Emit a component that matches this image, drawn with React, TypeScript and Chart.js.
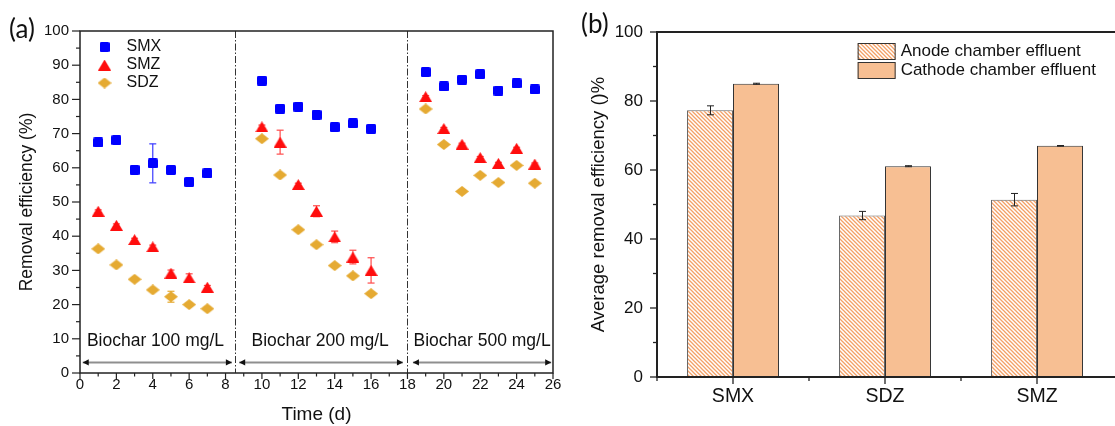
import React, { useEffect, useRef } from 'react';
import { Chart, registerables } from 'chart.js';

Chart.register(...registerables);

const FONT = "'Liberation Sans', Arial, Helvetica, sans-serif";
const LABEL_FONT = "Lato, 'Open Sans', sans-serif";
const TEXT = '#111111';

// ---------- Panel (a) data ----------
const days = [1, 2, 3, 4, 5, 6, 7, 10, 11, 12, 13, 14, 15, 16, 19, 20, 21, 22, 23, 24, 25];
const smx = [67.4, 68.1, 59.4, 61.3, 59.4, 55.9, 58.4, 85.5, 77.3, 77.9, 75.5, 71.9, 73.0, 71.4, 88.0, 83.8, 85.8, 87.4, 82.6, 84.7, 82.9];
const smxErr = [0.6, 0.6, 0.5, 5.7, 0.6, 0.5, 0.9, 0.5, 0.4, 0.4, 0.7, 0.4, 0.3, 0.7, 0.3, 0.3, 0.3, 0.3, 0.3, 0.3, 0.3];
const smz = [47.3, 43.2, 39.0, 36.9, 29.2, 27.8, 25.1, 72.0, 67.5, 55.1, 47.3, 39.8, 33.9, 30.0, 80.8, 71.5, 66.9, 63.0, 61.3, 65.7, 61.1];
const smzErr = [0.4, 0.4, 0.4, 0.5, 0.9, 1.2, 0.5, 0.5, 3.5, 0.4, 1.6, 1.7, 2.0, 3.7, 0.3, 0.3, 0.3, 0.3, 0.3, 0.3, 0.3];
const sdz = [36.3, 31.6, 27.4, 24.3, 22.3, 20.0, 18.8, 68.5, 57.9, 41.9, 37.5, 31.4, 28.4, 23.2, 77.2, 66.8, 53.1, 57.8, 55.7, 60.7, 55.5];
const sdzErr = [0.4, 0.4, 0.4, 0.4, 1.6, 0.4, 0.4, 0.4, 0.4, 0.4, 0.4, 0.4, 0.4, 0.4, 0.3, 0.3, 0.3, 0.3, 0.3, 0.3, 0.3];
const seriesNames = ['SMX', 'SMZ', 'SDZ'];
const seriesColors = ['#0000ff', '#ff0d0d', '#e5aa32'];
const errorColors = ['#3a3aff', '#ff4a4a', '#e5aa32'];
const xMaxA = 26;
const xStepA = 2;
const yMaxA = 100;
const yStepA = 10;
const dividers = [8.5, 18];
const regionLabels = ['Biochar 100 mg/L', 'Biochar 200 mg/L', 'Biochar 500 mg/L'];
const regionCenters = [4.15, 13.2, 22.1];
const regionLabelY = 9.2;
const arrowStarts = [0.15, 8.75, 18.3];
const arrowEnds = [8.35, 17.75, 25.9];
const arrowY = 3.1;

// ---------- Panel (b) data ----------
const compounds = ['SMX', 'SDZ', 'SMZ'];
const anode = [77.3, 46.8, 51.4];
const anodeErr = [1.3, 1.2, 1.8];
const cathode = [85.0, 61.1, 67.0];
const cathodeErr = [0.15, 0.15, 0.1];
const barNames = ['Anode chamber effluent', 'Cathode chamber effluent'];
const yMaxB = 100;
const yStepB = 20;

// ---------- helpers ----------
function mk(w: number, h: number) {
  const c = document.createElement('canvas');
  c.width = w;
  c.height = h;
  return c;
}
function squareMarker(color: string, s: number) {
  const c = mk(s, s);
  const g = c.getContext('2d')!;
  g.fillStyle = color;
  g.beginPath();
  if ((g as any).roundRect) (g as any).roundRect(0, 0, s, s, 1.5);
  else g.rect(0, 0, s, s);
  g.fill();
  return c;
}
function triangleMarker(color: string, w: number, h: number) {
  const c = mk(w, h);
  const g = c.getContext('2d')!;
  g.fillStyle = color;
  g.beginPath();
  g.moveTo(w / 2, 0);
  g.lineTo(w, h);
  g.lineTo(0, h);
  g.closePath();
  g.fill();
  return c;
}
function diamondMarker(color: string, w: number, h: number) {
  const c = mk(w, h);
  const g = c.getContext('2d')!;
  g.fillStyle = color;
  g.beginPath();
  g.moveTo(w / 2, 0);
  g.lineTo(w, h / 2);
  g.lineTo(w / 2, h);
  g.lineTo(0, h / 2);
  g.closePath();
  g.fill();
  return c;
}
function hatchPattern(ctx: CanvasRenderingContext2D, color: string) {
  const s = 4;
  const c = mk(s, s);
  const g = c.getContext('2d')!;
  g.fillStyle = '#ffffff';
  g.fillRect(0, 0, s, s);
  g.strokeStyle = color;
  g.lineWidth = 1.3;
  g.beginPath();
  for (let k = -1; k <= 1; k++) {
    g.moveTo(-1, -1 + k * s);
    g.lineTo(s + 1, s + 1 + k * s);
  }
  g.stroke();
  return ctx.createPattern(c, 'repeat')!;
}
function line(ctx: CanvasRenderingContext2D, x0: number, y0: number, x1: number, y1: number) {
  ctx.beginPath();
  ctx.moveTo(x0, y0);
  ctx.lineTo(x1, y1);
  ctx.stroke();
}

export default function App() {
  const refA = useRef<HTMLCanvasElement>(null);
  const refB = useRef<HTMLCanvasElement>(null);

  useEffect(() => {
    const markers = [
      squareMarker(seriesColors[0], 10),
      triangleMarker(seriesColors[1], 13, 11),
      diamondMarker(seriesColors[2], 14, 11),
    ];
    const seriesValues = [smx, smz, sdz];
    const seriesErrs = [smxErr, smzErr, sdzErr];

    const panelA = {
      id: 'panelA',
      beforeDatasetsDraw(chart: any) {
        const { ctx, chartArea: ca } = chart;
        const x = chart.scales.x;
        const y = chart.scales.y;
        ctx.save();
        // dividers
        ctx.strokeStyle = '#333';
        ctx.lineWidth = 1;
        ctx.setLineDash([7, 2, 1.5, 2]);
        for (const d of dividers) {
          const px = Math.round(x.getPixelForValue(d)) + 0.5;
          line(ctx, px, ca.top, px, ca.bottom);
        }
        ctx.setLineDash([]);
        // arrows
        const ay = y.getPixelForValue(arrowY);
        for (let i = 0; i < arrowStarts.length; i++) {
          const x0 = x.getPixelForValue(arrowStarts[i]);
          const x1 = x.getPixelForValue(arrowEnds[i]);
          ctx.strokeStyle = '#8f8f8f';
          ctx.lineWidth = 2;
          line(ctx, x0, ay, x1, ay);
          ctx.fillStyle = '#111';
          ctx.beginPath();
          ctx.moveTo(x0, ay);
          ctx.lineTo(x0 + 6, ay - 3.2);
          ctx.lineTo(x0 + 6, ay + 3.2);
          ctx.closePath();
          ctx.fill();
          ctx.beginPath();
          ctx.moveTo(x1, ay);
          ctx.lineTo(x1 - 6, ay - 3.2);
          ctx.lineTo(x1 - 6, ay + 3.2);
          ctx.closePath();
          ctx.fill();
        }
        // region labels
        ctx.fillStyle = TEXT;
        ctx.font = `17.5px ${FONT}`;
        ctx.textAlign = 'center';
        ctx.textBaseline = 'middle';
        regionLabels.forEach((t, i) =>
          ctx.fillText(t, x.getPixelForValue(regionCenters[i]), y.getPixelForValue(regionLabelY))
        );
        // error bars
        chart.data.datasets.forEach((ds: any) => {
          ctx.strokeStyle = ds.errorColor;
          ctx.lineWidth = 1.2;
          ds.errors.forEach((e: number, j: number) => {
            const p = ds.data[j];
            const px = x.getPixelForValue(p.x);
            const t = y.getPixelForValue(p.y + e);
            const b = y.getPixelForValue(p.y - e);
            line(ctx, px, t, px, b);
            line(ctx, px - 3.5, t, px + 3.5, t);
            line(ctx, px - 3.5, b, px + 3.5, b);
          });
        });
        ctx.restore();
      },
      afterDraw(chart: any) {
        const { ctx, chartArea: ca } = chart;
        const x = chart.scales.x;
        const y = chart.scales.y;
        ctx.save();
        ctx.strokeStyle = '#222';
        ctx.lineWidth = 1.5;
        ctx.strokeRect(ca.left, ca.top, ca.right - ca.left, ca.bottom - ca.top);
        ctx.lineWidth = 1.2;
        for (let v = 0; v <= yMaxA; v += yStepA / 2) {
          const py = y.getPixelForValue(v);
          const len = v % yStepA === 0 ? 8 : 4;
          line(ctx, ca.left - len, py, ca.left, py);
        }
        for (let v = 0; v <= xMaxA; v += xStepA / 2) {
          const px = x.getPixelForValue(v);
          const len = v % xStepA === 0 ? 6 : 3.5;
          line(ctx, px, ca.bottom, px, ca.bottom + len);
        }
        // legend
        ctx.font = `16px ${FONT}`;
        ctx.fillStyle = TEXT;
        ctx.textAlign = 'left';
        ctx.textBaseline = 'middle';
        const lx = x.getPixelForValue(1.35);
        chart.data.datasets.forEach((ds: any, i: number) => {
          const cy = ca.top + 16 + i * 18;
          const m = ds.pointStyle as HTMLCanvasElement;
          ctx.drawImage(m, lx - m.width / 2, cy - m.height / 2);
          ctx.fillText(ds.label, lx + 22, cy);
        });
        // panel label
        ctx.font = `26px ${LABEL_FONT}`;
        ctx.textBaseline = 'alphabetic';
        ctx.fillText('(a)', 9, 38);
        ctx.restore();
      },
    };

    const chartA = new Chart(refA.current!, {
      type: 'scatter',
      data: {
        datasets: seriesNames.map((name, i) => ({
          label: name,
          data: days.map((d, j) => ({ x: d, y: seriesValues[i][j] })),
          pointStyle: markers[i],
          pointRadius: 6,
          backgroundColor: seriesColors[i],
          borderColor: seriesColors[i],
          errors: seriesErrs[i],
          errorColor: errorColors[i],
        })) as any,
      },
      options: {
        responsive: false,
        animation: false,
        devicePixelRatio: 1,
        events: [],
        layout: { padding: { left: 0, right: 12, top: 31, bottom: 0 } },
        plugins: { legend: { display: false }, tooltip: { enabled: false } },
        scales: {
          x: {
            type: 'linear',
            min: 0,
            max: xMaxA,
            grid: { display: false, drawTicks: false },
            border: { display: false },
            ticks: { stepSize: xStepA, font: { family: FONT, size: 15 }, color: TEXT, padding: 3, maxRotation: 0, autoSkip: false },
            title: { display: true, text: 'Time (d)', font: { family: FONT, size: 19 }, color: TEXT, padding: { top: 0, bottom: 0 } },
            afterFit: (s: any) => { s.height = 53; },
          },
          y: {
            type: 'linear',
            min: 0,
            max: yMaxA,
            grid: { display: false, drawTicks: false },
            border: { display: false },
            ticks: { stepSize: yStepA, font: { family: FONT, size: 15 }, color: TEXT, padding: 11 },
            title: { display: true, text: 'Removal efficiency (%)', font: { family: FONT, size: 17.5 }, color: TEXT, padding: { top: 16.5, bottom: 0 } },
            afterFit: (s: any) => { s.width = 80; },
          },
        },
      } as any,
      plugins: [panelA],
    });

    const ctxB = refB.current!.getContext('2d')!;
    const hatch = hatchPattern(ctxB, '#f3a066');

    const panelB = {
      id: 'panelB',
      afterDatasetsDraw(chart: any) {
        const { ctx } = chart;
        const y = chart.scales.y;
        ctx.save();
        ctx.strokeStyle = '#222';
        ctx.lineWidth = 1;
        chart.data.datasets.forEach((ds: any, i: number) => {
          const meta = chart.getDatasetMeta(i);
          ds.errors.forEach((e: number, j: number) => {
            const px = Math.round(meta.data[j].x) + 0.5;
            const t = y.getPixelForValue(ds.data[j] + e);
            const b = y.getPixelForValue(ds.data[j] - e);
            line(ctx, px, t, px, b);
            line(ctx, px - 3.5, t, px + 3.5, t);
            line(ctx, px - 3.5, b, px + 3.5, b);
          });
        });
        ctx.restore();
      },
      afterDraw(chart: any) {
        const { ctx, chartArea: ca, width } = chart;
        const x = chart.scales.x;
        const y = chart.scales.y;
        ctx.save();
        ctx.strokeStyle = '#222';
        ctx.lineWidth = 2;
        line(ctx, ca.left, ca.top, ca.left, ca.bottom + 1);
        line(ctx, ca.left - 1, ca.bottom, width, ca.bottom);
        line(ctx, ca.left - 1, ca.top, width, ca.top);
        ctx.lineWidth = 1.3;
        for (let v = 0; v <= yMaxB; v += yStepB / 2) {
          const py = y.getPixelForValue(v);
          const len = v % yStepB === 0 ? 7 : 4;
          line(ctx, ca.left - len, py, ca.left, py);
        }
        for (let i = 0; i < compounds.length; i++) {
          const pc = x.getPixelForValue(i);
          line(ctx, pc, ca.bottom, pc, ca.bottom + 7);
          const pb = x.getPixelForValue(i - 0.5);
          line(ctx, pb, ca.bottom, pb, ca.bottom + 4);
        }
        // legend
        ctx.font = `17px ${FONT}`;
        ctx.textAlign = 'left';
        ctx.textBaseline = 'middle';
        const bx = x.getPixelForValue(0.82);
        chart.data.datasets.forEach((ds: any, i: number) => {
          const top = ca.top + 11 + i * 19;
          ctx.fillStyle = ds.backgroundColor;
          ctx.fillRect(bx, top, 38, 16.5);
          ctx.strokeStyle = '#333';
          ctx.lineWidth = 1;
          ctx.strokeRect(bx + 0.5, top + 0.5, 37, 16);
          ctx.fillStyle = TEXT;
          ctx.fillText(ds.label, bx + 43, top + 8.5);
        });
        ctx.font = `26px ${LABEL_FONT}`;
        ctx.textBaseline = 'alphabetic';
        ctx.fillText('(b)', 16, 33);
        ctx.restore();
      },
    };

    const chartB = new Chart(refB.current!, {
      type: 'bar',
      data: {
        labels: compounds,
        datasets: [
          {
            label: barNames[0],
            data: anode,
            errors: anodeErr,
            backgroundColor: hatch,
            borderColor: '#666',
            borderWidth: 1,
            barPercentage: 1,
            categoryPercentage: 0.605,
          },
          {
            label: barNames[1],
            data: cathode,
            errors: cathodeErr,
            backgroundColor: '#f7bf93',
            borderColor: '#333',
            borderWidth: 1,
            barPercentage: 1,
            categoryPercentage: 0.605,
          },
        ] as any,
      },
      options: {
        responsive: false,
        animation: false,
        devicePixelRatio: 1,
        events: [],
        layout: { padding: { left: 0, right: 2, top: 32, bottom: 0 } },
        plugins: { legend: { display: false }, tooltip: { enabled: false } },
        scales: {
          x: {
            type: 'category',
            grid: { display: false, drawTicks: false },
            border: { display: false },
            ticks: { font: { family: FONT, size: 19.5 }, color: TEXT, padding: 8 },
            afterFit: (s: any) => { s.height = 49; },
          },
          y: {
            type: 'linear',
            min: 0,
            max: yMaxB,
            grid: { display: false, drawTicks: false },
            border: { display: false },
            ticks: { stepSize: yStepB, font: { family: FONT, size: 17 }, color: TEXT, padding: 14 },
            title: { display: true, text: 'Average removal efficiency ()%', font: { family: FONT, size: 18.5 }, color: TEXT, padding: { top: 23, bottom: 0 } },
            afterFit: (s: any) => { s.width = 92; },
          },
        },
      } as any,
      plugins: [panelB],
    });

    return () => {
      chartA.destroy();
      chartB.destroy();
    };
  }, []);

  return (
    <div style={{ position: 'absolute', left: 0, top: 0, width: 1115, height: 426, background: '#ffffff', overflow: 'hidden' }}>
      <canvas ref={refA} width={565} height={426} style={{ position: 'absolute', left: 0, top: 0 }} />
      <canvas ref={refB} width={550} height={426} style={{ position: 'absolute', left: 565, top: 0 }} />
    </div>
  );
}
